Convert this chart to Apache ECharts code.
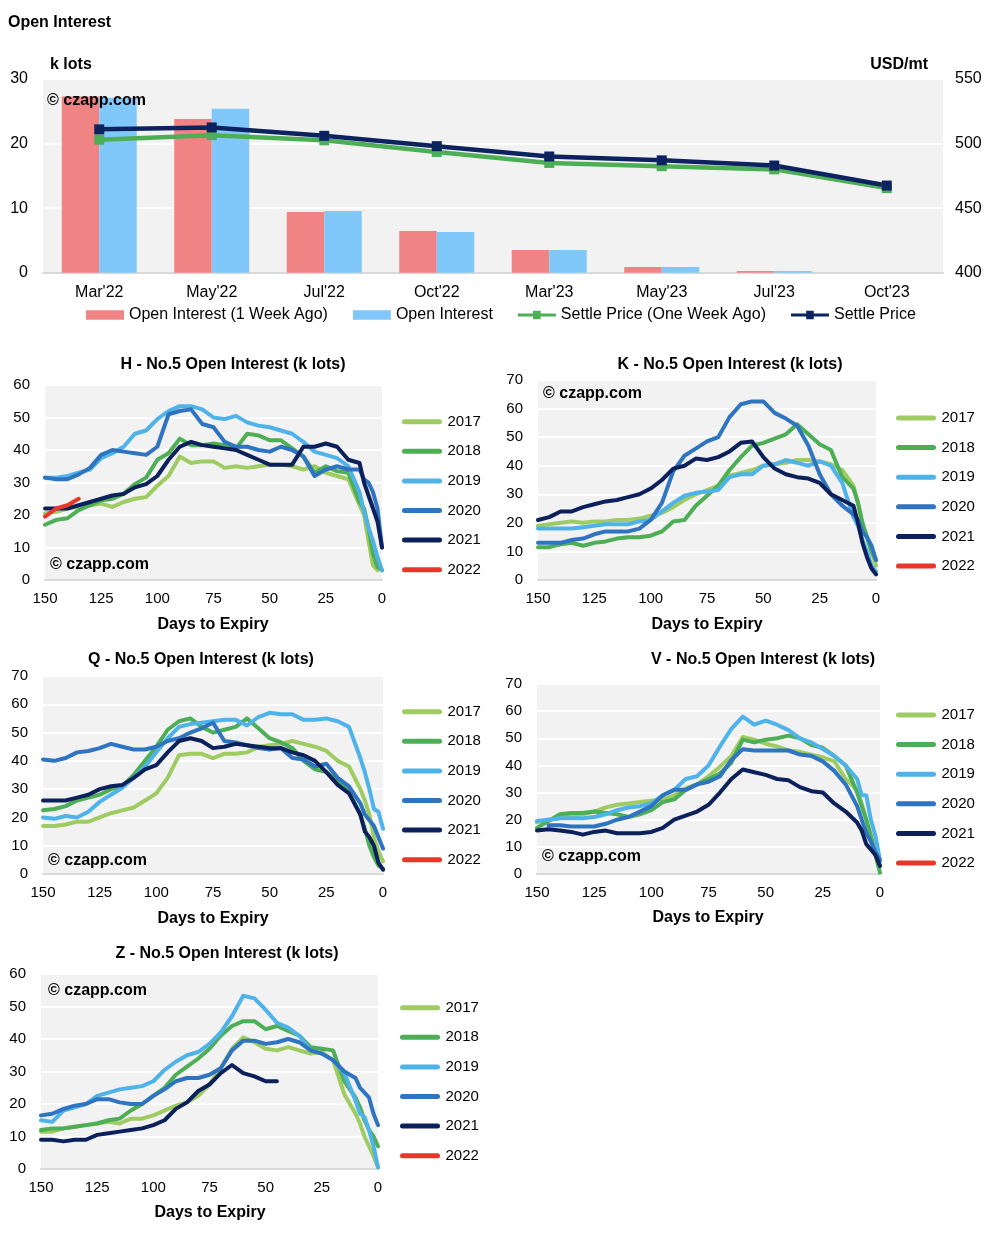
<!DOCTYPE html>
<html><head><meta charset="utf-8">
<script src="https://cdn.jsdelivr.net/npm/echarts@6/dist/echarts.min.js"></script>
<style>html,body{margin:0;padding:0;background:#fff}#c{width:1006px;height:1240px}</style>
</head><body><div id="c"></div>
<script>
// ---------- DATA ----------
const CATEGORIES = ["Mar'22","May'22","Jul'22","Oct'22","Mar'23","May'23","Jul'23","Oct'23"];
const OI_WEEK_AGO = [27.3, 23.8, 9.4, 6.45, 3.5, 0.9, 0.25, 0];
const OI_NOW = [27.1, 25.4, 9.55, 6.3, 3.5, 0.9, 0.25, 0];
const SETTLE_WEEK_AGO = [503, 506.5, 502.5, 493.5, 485, 482.5, 480, 465.5];
const SETTLE = [511, 512.5, 506, 498, 490, 487, 483, 467.5];
const LEFT_TICKS = [0, 10, 20, 30];
const RIGHT_TICKS = [400, 450, 500, 550];

const YEARS = ['2017','2018','2019','2020','2021','2022'];
const DAYS = [150,145,140,135,130,125,120,115,110,105,100,95,90,85,80,75,70,65,60,55,50,45,40,35,30,25,20,15,10,8,6,4,2,0];
const X_TICKS = [150,125,100,75,50,25,0];

const H_2017 = [20.5,21,22,22.5,23,23.5,22.5,24,25,25.5, 29,32,38,36,36.5,36.5,34.5,35,34.5,35, 35.5,35.5,35,34,35,33,32,31,23, 20,12,4.5,3,null];
const H_2018 = [17,18.5,19,21.5,23,24.5,25,26.5,29.5,31.5, 37,39,43.5,41.5,41.5,42,41.5,40.5,45,44.5, 43,43,40.5,38,33,35,33.5,33,24, 22,16,8,4,3];
const H_2019 = [31.5,31.5,32,33,34,37.5,39,41,45,46, 49.5,52,53.5,53.5,52.5,50,49.5,50.5,48.5,47.5, 47,46,45,42.5,39.5,38.5,37.5,35,27, 21,16,12,7,3];
const H_2020 = [31.5,31,31,32.5,34.5,38.5,40,39.5,39,38.5, 41,51,52,52.5,48,47,42.5,41,41,40, 39.5,41,40,38,32,34,35,34,34, 31,30,27,22,10];
const H_2021 = [22,22,22,23,24,25,26,26.5,28.5,29.5, 32,37,41,42.5,41.5,41,40.5,40,38.5,37, 35.5,35.5,35.5,41,41,42,41,37,36, 30,26,22,18,10];
const H_2022 = [19.5,22,23,25];

const K_2017 = [19,19.5,20,20.5,20,20.5,20.5,21,21,21.5, 22.5,23.5,25.5,28,30,31.5,33,36.5,37.5,38.5, 40,40.5,41,42,42,41.5,40.5,38.5,33, 27,19,15,10,5];
const K_2018 = [11.5,11.5,12.5,13,12,13,13.5,14.5,15,15, 15.5,17,20.5,21,26,29.5,33,38.5,43,47, 48,49.5,51,54.5,51,47.5,45.5,36,32, 27,20,15,10,7];
const K_2019 = [18,18,18,18,18.5,19,19.5,19.5,19.5,20.5, 21,24,27,29.5,30.5,31,31.5,36,37,37, 40,40.5,42,41,40,41.5,40,34,22, 19,14,10,5,3];
const K_2020 = [13,13,13,14,14.5,16,17,17,17,18, 21,27,38,43.5,46,48.5,50,57,61.5,62.5, 62.5,58.5,56.5,54,47,37,30,26,23, 21,17,15,12,7];
const K_2021 = [21,22,24,24,25.5,26.5,27.5,28,29,30, 32,35,39,40,42.5,42,43,45,48,48.5, 43,39,37,36,35.5,34,30,28,26, 20,13,8,4,2];
const K_2022 = [];

const Q_2017 = [17,17,17.5,18.5,18.5,20,21.5,22.5,23.5,26, 28.5,34,42,42.5,42.5,41,42.5,42.5,43,45, 45.5,46,47,46,45,43.5,40,38,30, 26,21,13,8,4.5];
const Q_2018 = [22.5,23,24,26,27,28,30,31,35,40, 45,51,54,55,52,50,51,52,55,51.5, 48,46.5,44.5,40,37,36,33,29,21, 16,10,6,3,2];
const Q_2019 = [20,19.5,20.5,20,22,25.5,28,30.5,34,38, 43,48,52,53,53.5,54,54.5,54.5,52.5,55.5, 57,56.5,56.5,54.5,54.5,55,54,52,41, 36,30,23,22,16];
const Q_2020 = [40.5,40,41,43,43.5,44.5,46,45,44,44, 45,47,48,50,51.5,53.5,47,46.5,45.5,44.5, 44,44.5,41,40.5,38,39,34,31,25, 21,19,17,13,9];
const Q_2021 = [26,26,26,27,28,30,31,31.5,34,37, 38.5,43,47,48,47,44.5,45,46,45.5,45, 44.5,44.5,43,42,40,36,31.5,28.5,21, 15,13,10,4,1.5];
const Q_2022 = [];

const V_2017 = [19,20,20.5,21.5,22,23,24.5,25.5,26,26.5, 27,27.5,29,31.5,33,36,39.5,43.5,50.5,49.5, 48,47,45.5,45,44,43,41.5,35,31, 26,20,14,8,3];
const V_2018 = [17,19.5,22,22.5,22.5,23,22.5,22,21,22, 23.5,26.5,27.5,31,33,35,37,41,49.5,48.5, 49.5,50,51,50,47.5,46.5,43.5,40,30, 25,20,14,7,0.5];
const V_2019 = [19.5,20,20.5,20.5,20.5,21,22,23.5,24.5,25, 26,29,31,35,36,40,47,53.5,58,55, 56.5,55,53,50,48.5,46,43.5,40,35, 29,29,20,14,5];
const V_2020 = [null,18,18,17.5,17.5,17.5,18.5,20,21,23, 25,29,31,31,33,34,36,42,46,45.5, 45.5,45.5,45.5,44,43.5,41.5,38,33,25, 20,15,12,8,5];
const V_2021 = [16,16.5,16,15.5,14.5,15.5,16,15,15,15, 15.5,17,20,21.5,23,25.5,30,35,38.5,37.5, 36.5,35,34.5,32,30.5,30,26,23,19, 16,11,9,7,3];
const V_2022 = [];

const Z_2017 = [11.5,11.5,12.5,13,13.5,14,14.5,14,15.5,15.5, 16.5,18,19.5,20.5,22.5,26,31,37,40.5,39, 37,36.5,37.5,36.5,35.5,36,33.5,23,17, 14,10,7,4,0.5];
const Z_2018 = [12,12.5,12.5,13,13.5,14,15,15.5,18,20, 22.5,25,29,31.5,34,37,41,44,45.5,45.5, 43,44,42.5,41,37.5,37,36.5,27,22, 19,15,12,10,7];
const Z_2019 = [15,14.5,18,19,20,22.5,23.5,24.5,25,25.5, 27,30.5,33,35,36,38.5,42,47,53.3,52.5, 49,45,43.5,41,36.5,35.5,33.5,29.5,21, 17,16,12,7,0.5];
const Z_2020 = [16.5,17,18.5,19.5,20,21.5,21.5,20.5,20,20, 22.5,24.5,27,28,28,29,31,36.5,39.5,39.5, 38.5,39,40,39,36.5,35.5,33.5,30,28, 25,23.5,22,17,13.5];
const Z_2021 = [9,9,8.5,9,9,10.5,11,11.5,12,12.5, 13.5,15,18.5,20.5,24,26,29.5,32,29.5,28.5, 27,27];
const Z_2022 = [];

// ---------- STYLE / LAYOUT ----------
const FONT = "'Liberation Sans', Arial, Helvetica, sans-serif";
const YEAR_COLORS = ['#9fcc62','#4dae55','#4fb3ea','#2e74c0','#0c205c','#e8362a'];
const LINE_ICON = 'path://M2.5,0 L37.5,0 A2.5,2.5 0 0 1 37.5,5 L2.5,5 A2.5,2.5 0 0 1 2.5,0 Z';
const MARK_ICON = 'path://M0,3.5 L16,3.5 L16,0.5 L24,0.5 L24,3.5 L40,3.5 L40,6.5 L24,6.5 L24,9.5 L16,9.5 L16,6.5 L0,6.5 Z';
const PANELS = [
  {title:'H - No.5 Open Interest (k lots)', series:[H_2017,H_2018,H_2019,H_2020,H_2021,H_2022], ymax:60,
   grid:{left:45,top:385,width:337,height:195}, tx:233, ty:365, nx:213, ny:625, wx:50, wy:565, lx:402, ly:421.7},
  {title:'K - No.5 Open Interest (k lots)', series:[K_2017,K_2018,K_2019,K_2020,K_2021,K_2022], ymax:70,
   grid:{left:538,top:380,width:338,height:200}, tx:730, ty:365, nx:707, ny:625, wx:543, wy:394, lx:896, ly:418},
  {title:'Q - No.5 Open Interest (k lots)', series:[Q_2017,Q_2018,Q_2019,Q_2020,Q_2021,Q_2022], ymax:70,
   grid:{left:43,top:676,width:340,height:198}, tx:201, ty:660, nx:213, ny:919, wx:48, wy:861, lx:402, ly:711.7},
  {title:'V - No.5 Open Interest (k lots)', series:[V_2017,V_2018,V_2019,V_2020,V_2021,V_2022], ymax:70,
   grid:{left:537,top:684,width:343,height:190}, tx:763, ty:660, nx:708, ny:918, wx:542, wy:857, lx:896, ly:715},
  {title:'Z - No.5 Open Interest (k lots)', series:[Z_2017,Z_2018,Z_2019,Z_2020,Z_2021,Z_2022], ymax:60,
   grid:{left:41,top:974,width:337,height:195}, tx:227, ty:954, nx:210, ny:1213, wx:48, wy:991, lx:400, ly:1007.7}
];

const grids = [{left:43, top:79, width:900, height:193.7, show:true, backgroundColor:'#f2f2f2', borderWidth:0, containLabel:false}];
const xAxes = [{
  type:'category', gridIndex:0, data:CATEGORIES,
  axisLine:{lineStyle:{color:'#d9d9d9', width:2}}, axisTick:{show:false},
  axisLabel:{color:'#000', fontSize:16, fontFamily:FONT, margin:12}
}];
const yAxes = [
  {type:'value', gridIndex:0, min:LEFT_TICKS[0], max:LEFT_TICKS[LEFT_TICKS.length-1], interval:LEFT_TICKS[1]-LEFT_TICKS[0],
   axisLine:{show:false}, axisTick:{show:false},
   axisLabel:{color:'#000', fontSize:16, fontFamily:FONT, margin:15},
   splitLine:{lineStyle:{color:'#fff', width:2}}},
  {type:'value', gridIndex:0, position:'right', min:RIGHT_TICKS[0], max:RIGHT_TICKS[RIGHT_TICKS.length-1], interval:RIGHT_TICKS[1]-RIGHT_TICKS[0],
   axisLine:{show:false}, axisTick:{show:false},
   axisLabel:{color:'#000', fontSize:16, fontFamily:FONT, margin:12},
   splitLine:{show:false}}
];
const series = [
  {name:'Open Interest (1 Week Ago)', type:'bar', xAxisIndex:0, yAxisIndex:0, data:OI_WEEK_AGO,
   barWidth:37.5, barGap:'0%', itemStyle:{color:'#f08383'}},
  {name:'Open Interest', type:'bar', xAxisIndex:0, yAxisIndex:0, data:OI_NOW,
   barWidth:37.5, barGap:'0%', itemStyle:{color:'#80c8f9'}},
  {name:'Settle Price (One Week Ago)', type:'line', xAxisIndex:0, yAxisIndex:1, data:SETTLE_WEEK_AGO,
   symbol:'rect', symbolSize:10, itemStyle:{color:'#4dae55'}, lineStyle:{width:4.5, color:'#4dae55'}},
  {name:'Settle Price', type:'line', xAxisIndex:0, yAxisIndex:1, data:SETTLE,
   symbol:'rect', symbolSize:10, itemStyle:{color:'#0c2360'}, lineStyle:{width:4.5, color:'#0c2360'}}
];
const legends = [{
  data:[
    {name:'Open Interest (1 Week Ago)', icon:'rect'},
    {name:'Open Interest', icon:'rect'},
    {name:'Settle Price (One Week Ago)', icon:MARK_ICON},
    {name:'Settle Price', icon:MARK_ICON}
  ],
  left:86, top:307, padding:0, itemWidth:38, itemHeight:9.5, itemGap:25,
  textStyle:{color:'#000', fontSize:16, fontFamily:FONT}
}];
const graphics = [
  {type:'text', left:8, top:15, style:{text:'Open Interest', font:'bold 16px '+FONT, fill:'#000'}},
  {type:'text', left:50, top:57, style:{text:'k lots', font:'bold 16px '+FONT, fill:'#000'}},
  {type:'text', right:1006-928, top:57, style:{text:'USD/mt', font:'bold 16px '+FONT, fill:'#000'}},
  {type:'text', left:47, top:93, z:100, style:{text:'\u00a9 czapp.com', font:'bold 16px '+FONT, fill:'#000'}}
];

PANELS.forEach((p, i) => {
  const gi = i + 1;
  grids.push(Object.assign({show:true, backgroundColor:'#f2f2f2', borderWidth:0}, p.grid));
  xAxes.push({
    type:'value', gridIndex:gi, min:X_TICKS[X_TICKS.length-1], max:X_TICKS[0], interval:X_TICKS[0]-X_TICKS[1], inverse:true,
    axisLine:{onZero:false, lineStyle:{color:'#d9d9d9', width:2}}, axisTick:{show:false},
    axisLabel:{color:'#000', fontSize:15, fontFamily:FONT, margin:11},
    splitLine:{show:false}
  });
  yAxes.push({
    type:'value', gridIndex:gi, min:0, max:p.ymax, interval:10,
    axisLine:{show:false}, axisTick:{show:false},
    axisLabel:{color:'#000', fontSize:15, fontFamily:FONT, margin:15},
    splitLine:{lineStyle:{color:'#fff', width:2}}
  });
  p.series.forEach((vals, k) => {
    const pts = [];
    vals.forEach((v, j) => { if (v !== null && v !== undefined) pts.push([DAYS[j], v]); });
    series.push({
      name:YEARS[k], type:'line', xAxisIndex:gi, yAxisIndex:gi+1, data:pts,
      symbol:'none', smooth:false, clip:true,
      itemStyle:{color:YEAR_COLORS[k]},
      lineStyle:{width:4, color:YEAR_COLORS[k], cap:'round', join:'round'}
    });
  });
  legends.push({
    data:YEARS.map(y => ({name:y, icon:LINE_ICON})), orient:'vertical', left:p.lx, top:p.ly - 7.5, padding:0,
    itemWidth:41, itemHeight:5, itemGap:14.6,
    textStyle:{color:'#000', fontSize:15, fontFamily:FONT, lineHeight:15, height:15}
  });
  graphics.push({type:'text', x:p.tx, y:p.ty, style:{text:p.title, font:'bold 16px '+FONT, fill:'#000', textAlign:'center', textVerticalAlign:'middle'}});
  graphics.push({type:'text', x:p.nx, y:p.ny, style:{text:'Days to Expiry', font:'bold 16px '+FONT, fill:'#000', textAlign:'center', textVerticalAlign:'middle'}});
  graphics.push({type:'text', x:p.wx, y:p.wy, z:100, style:{text:'\u00a9 czapp.com', font:'bold 16px '+FONT, fill:'#000', textAlign:'left', textVerticalAlign:'middle'}});
});

const chart = echarts.init(document.getElementById('c'), null, {renderer:'canvas'});
chart.setOption({
  animation:false,
  textStyle:{fontFamily:FONT},
  grid:grids, xAxis:xAxes, yAxis:yAxes, series:series, legend:legends, graphic:graphics
});
</script>
</body></html>
